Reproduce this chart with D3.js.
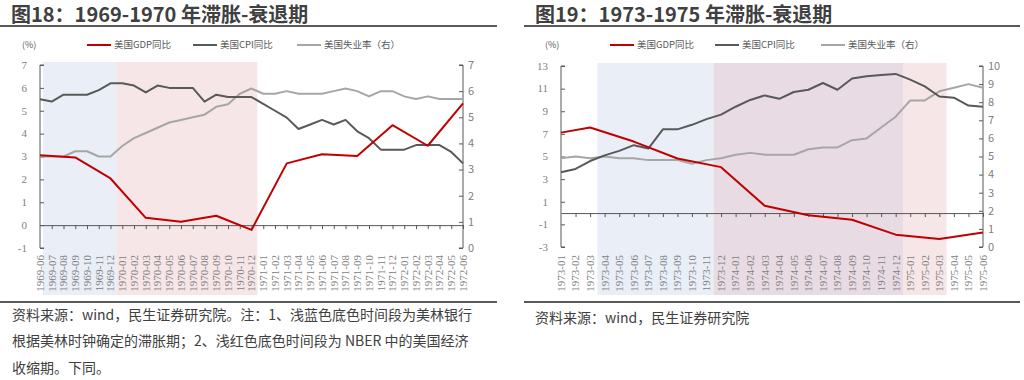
<!DOCTYPE html>
<html><head><meta charset="utf-8">
<script src="https://cdn.jsdelivr.net/npm/d3@7/dist/d3.min.js"></script>
<style>
body{margin:0;background:#fff;}
svg text{font-family:"Noto Sans CJK SC","Noto Sans",sans-serif;}
</style></head>
<body><svg id="c" width="1024" height="380"></svg>
<script>
// ---------- Chart 18 data ----------
const months18 = ["1969-06","1969-07","1969-08","1969-09","1969-10","1969-11","1969-12",
"1970-01","1970-02","1970-03","1970-04","1970-05","1970-06","1970-07","1970-08","1970-09","1970-10","1970-11","1970-12",
"1971-01","1971-02","1971-03","1971-04","1971-05","1971-06","1971-07","1971-08","1971-09","1971-10","1971-11","1971-12",
"1972-01","1972-02","1972-03","1972-04","1972-05","1972-06"];
const gdp18 = [3.05,null,null,2.96,null,null,2.04,null,null,0.32,null,null,0.15,null,null,0.41,null,null,-0.21,
null,null,2.70,null,null,3.10,null,null,3.02,null,null,4.37,null,null,3.47,null,null,5.32];
const cpi18 = [5.5,5.4,5.7,5.7,5.7,5.9,6.2,6.2,6.1,5.8,6.1,6.0,6.0,6.0,5.4,5.7,5.6,5.6,5.6,
5.3,5.0,4.7,4.2,4.4,4.6,4.4,4.6,4.1,3.8,3.3,3.3,3.3,3.5,3.5,3.5,3.2,2.7];
const unemp18 = [3.5,3.5,3.5,3.7,3.7,3.5,3.5,3.9,4.2,4.4,4.6,4.8,4.9,5.0,5.1,5.4,5.5,5.9,6.1,
5.9,5.9,6.0,5.9,5.9,5.9,6.0,6.1,6.0,5.8,6.0,6.0,5.8,5.7,5.8,5.7,5.7,5.7];
const leftTicks18 = [-1,0,1,2,3,4,5,6,7];
const rightTicks18 = [0,1,2,3,4,5,6,7];
const blue18 = ["1969-06","1969-12"];
const red18 = ["1970-01","1970-12"];

// ---------- Chart 19 data ----------
const months19 = ["1973-01","1973-02","1973-03","1973-04","1973-05","1973-06","1973-07","1973-08","1973-09","1973-10","1973-11","1973-12",
"1974-01","1974-02","1974-03","1974-04","1974-05","1974-06","1974-07","1974-08","1974-09","1974-10","1974-11","1974-12",
"1975-01","1975-02","1975-03","1975-04","1975-05","1975-06"];
const gdp19 = [7.11,null,7.56,null,null,6.32,null,null,4.82,null,null,4.06,null,null,0.64,null,null,-0.2,null,null,-0.59,null,null,-1.91,null,null,-2.3,null,null,-1.71];
const cpi19 = [3.6,3.9,4.6,5.1,5.5,6.0,5.7,7.4,7.4,7.8,8.3,8.7,9.4,10.0,10.4,10.1,10.7,10.9,11.5,10.9,11.9,12.1,12.2,12.3,11.8,11.2,10.3,10.2,9.5,9.4];
const unemp19 = [4.9,5.0,4.9,5.0,4.9,4.9,4.8,4.8,4.8,4.6,4.8,4.9,5.1,5.2,5.1,5.1,5.1,5.4,5.5,5.5,5.9,6.0,6.6,7.2,8.1,8.1,8.6,8.8,9.0,8.8];
const leftTicks19 = [-3,-1,1,3,5,7,9,11,13];
const rightTicks19 = [0,1,2,3,4,5,6,7,8,9,10];
const blue19 = ["1973-04","1974-12"];
const red19 = ["1973-12","1975-03"];

const legendNames = ["美国GDP同比","美国CPI同比","美国失业率（右）"];
const colors = {gdp:"#C00000", cpi:"#595959", un:"#A6A6A6", blue:"#E9EEF7", red:"#F7E5E7", axis:"#595959", tick:"#7F7F7F"};

const svg = d3.select("#c");

function panel(o){
  const g = svg.append("g");
  // title
  g.append("text").attr("x",o.titleX).attr("y",22).attr("font-size",20).attr("font-weight","bold")
   .attr("fill","#404040").text(o.title);
  g.append("line").attr("x1",o.lineX1).attr("x2",o.lineX2).attr("y1",26).attr("y2",26)
   .attr("stroke","#595959").attr("stroke-width",2);
  g.append("line").attr("x1",o.lineX1).attr("x2",o.lineX2).attr("y1",302).attr("y2",302)
   .attr("stroke","#595959").attr("stroke-width",2);

  const x = d3.scalePoint().domain(o.months).range([o.x0,o.x1]);
  const step = x.step();
  const yL = d3.scaleLinear().domain([o.lTicks[0],o.lTicks[o.lTicks.length-1]]).range([o.yb,o.yt]);
  const yR = d3.scaleLinear().domain([o.rTicks[0],o.rTicks[o.rTicks.length-1]]).range([o.yb,o.yt]);

  // shading
  function band(p,color,opacity){
    let a = Math.max(o.x0+3, x(p[0])-step/2), b = Math.min(o.x1, x(p[1])+step/2);
    g.append("rect").attr("x",a).attr("y",o.yt-3).attr("width",b-a).attr("height",295-(o.yt-3))
     .attr("fill",color).attr("fill-opacity",opacity);
  }
  band(o.blue,"#E9EEF7",1);
  band(o.red,"#E9B7BD",0.35);

  // axes
  const la = g.append("g").attr("transform",`translate(${o.x0},0)`)
    .call(d3.axisRight(yL).tickValues(o.lTicks).tickSize(4).tickFormat(d3.format("d")));
  la.selectAll("text").remove();
  la.selectAll("line,path").attr("stroke",colors.axis);
  la.select(".domain").attr("d",`M4,${o.yt}H0V${o.yb}H4`);
  g.append("g").selectAll("text").data(o.lTicks).join("text")
   .attr("x",o.x0-13).attr("y",d=>yL(d)).attr("dy","0.35em").attr("text-anchor","end")
   .attr("font-size",11).style("font-family","'Liberation Serif',serif").attr("fill","#808080").text(d=>d);

  const ra = g.append("g").attr("transform",`translate(${o.x1},0)`)
    .call(d3.axisLeft(yR).tickValues(o.rTicks).tickSize(4));
  ra.selectAll("text").remove();
  ra.selectAll("line,path").attr("stroke",colors.axis);
  ra.select(".domain").attr("d",`M-4,${o.yt}H0V${o.yb}H-4`);
  g.append("g").selectAll("text").data(o.rTicks).join("text")
   .attr("x",o.x1+5).attr("y",d=>yR(d)).attr("dy","0.35em").attr("text-anchor","start")
   .attr("font-size",11).attr("font-family","Calibri,Carlito,'Open Sans',sans-serif").attr("fill","#808080").text(d=>d);

  // x axis at 0
  const xa = g.append("g").attr("transform",`translate(0,${yL(0)})`)
    .call(d3.axisBottom(x).tickSize(4).tickSizeOuter(0));
  xa.selectAll("text").remove();
  xa.selectAll("line,path").attr("stroke",colors.axis);
  xa.selectAll(".tick").filter((d,i)=>i===0).remove();
  g.append("g").selectAll("text").data(o.months).join("text")
   .attr("transform",d=>`translate(${x(d)},255) rotate(-90)`)
   .attr("dy","0.35em").attr("text-anchor","end")
   .attr("font-size",11).style("font-family","'Liberation Serif',serif").attr("fill","#808080").text(d=>d);

  // lines
  const mk = (ys,yv)=>d3.line().defined(d=>d!=null).x((d,i)=>x(o.months[i])).y(d=>yv(d));
  function draw(vals,ys,color){
    const pts = vals.map((v,i)=>[o.months[i],v]).filter(p=>p[1]!=null);
    g.append("path").datum(pts).attr("fill","none").attr("stroke",color).attr("stroke-width",2)
     .attr("stroke-linejoin","round")
     .attr("d",d3.line().x(p=>x(p[0])).y(p=>ys(p[1])));
  }
  draw(o.un,yR,colors.un);
  draw(o.cpi,yL,colors.cpi);
  draw(o.gdp,yL,colors.gdp);

  // legend
  const ly = 45;
  g.append("text").attr("x",o.pctX).attr("y",ly).attr("dy","0.35em").attr("font-size",9)
   .attr("fill","#595959").text("(%)");
  const lc = [colors.gdp,colors.cpi,colors.un];
  o.legX.forEach((lx,i)=>{
    g.append("line").attr("x1",lx).attr("x2",lx+24).attr("y1",ly).attr("y2",ly)
     .attr("stroke",lc[i]).attr("stroke-width",2);
    g.append("text").attr("x",lx+27).attr("y",ly).attr("dy","0.35em").attr("font-size",9.5)
     .attr("fill","#595959").text(legendNames[i]);
  });
}

panel({title:"图18：1969-1970 年滞胀-衰退期", titleX:11, lineX1:0, lineX2:497,
  months:months18, gdp:gdp18, cpi:cpi18, un:unemp18, lTicks:leftTicks18, rTicks:rightTicks18,
  blue:blue18, red:red18, x0:40, x1:463, yt:65, yb:248, pctX:22, legX:[87,193,297]});
panel({title:"图19：1973-1975 年滞胀-衰退期", titleX:535, lineX1:524, lineX2:1020,
  months:months19, gdp:gdp19, cpi:cpi19, un:unemp19, lTicks:leftTicks19, rTicks:rightTicks19,
  blue:blue19, red:red19, x0:561, x1:983, yt:66, yb:247, pctX:545, legX:[610,715,821]});

// footnotes
const note18 = ["资料来源：wind，民生证券研究院。注：1、浅蓝色底色时间段为美林银行",
  "根据美林时钟确定的滞胀期；2、浅红色底色时间段为 NBER 中的美国经济",
  "收缩期。下同。"];
const note19 = ["资料来源：wind，民生证券研究院"];
svg.append("g").selectAll("text").data(note18).join("text")
  .attr("x",12).attr("y",(d,i)=>315+i*26.5).attr("dy","0.35em").attr("font-size",14)
  .attr("fill","#404040").text(d=>d);
svg.append("g").selectAll("text").data(note19).join("text")
  .attr("x",535).attr("y",318).attr("dy","0.35em").attr("font-size",14)
  .attr("fill","#404040").text(d=>d);
</script></body></html>
